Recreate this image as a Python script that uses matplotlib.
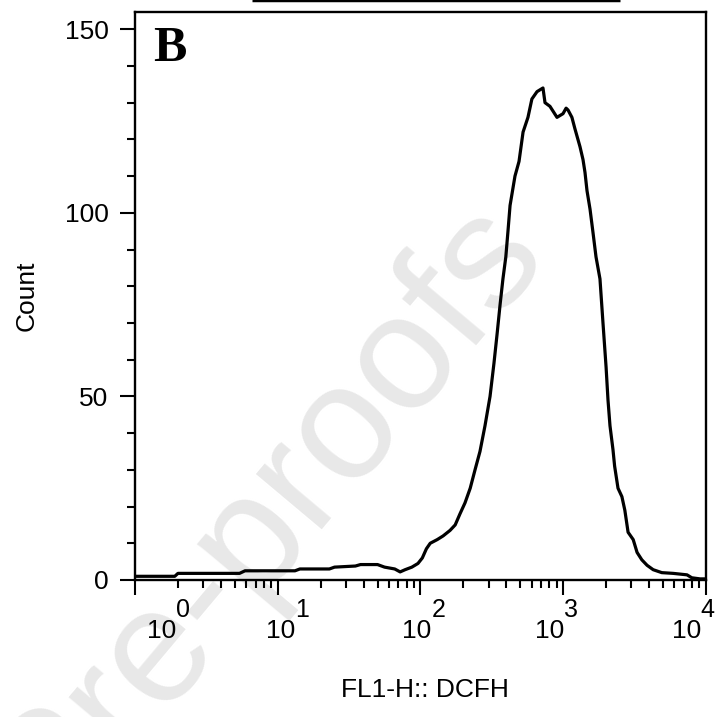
import matplotlib
matplotlib.use('Agg')
import matplotlib.pyplot as plt
from matplotlib.ticker import FixedLocator, LogLocator, NullFormatter
import numpy as np

plt.rcParams['font.family'] = ['Liberation Sans', 'DejaVu Sans']

# histogram: FL1-H channel value vs count
fl1 = [1.0, 1.9, 2.0, 5.4, 5.9, 13.2, 14.3, 23, 25, 35, 38, 50, 56, 66, 72, 78, 87,
       96, 103, 110, 117, 131, 144, 161, 175, 189, 205, 223, 241, 261, 283, 307,
       327, 344, 361, 378, 396, 410, 424, 459, 490, 523, 566, 603, 655, 687, 721,
       745, 807, 904, 996, 1047, 1080, 1150, 1205, 1310, 1375, 1420, 1467, 1540,
       1616, 1696, 1808, 1898, 1995, 2058, 2125, 2230, 2290, 2418, 2575, 2700,
       2845, 3090, 3290, 3550, 3865, 4265, 4900, 5890, 7360, 7950, 9080, 10000]
count = [1.0, 1.0, 1.8, 1.8, 2.5, 2.5, 3.0, 3.0, 3.5, 3.8, 4.2, 4.2, 3.5, 3.0, 2.2,
         2.8, 3.5, 4.5, 6, 8.5, 10, 11, 12, 13.5, 15, 18, 21, 25, 30, 35, 42, 50,
         59, 67, 75, 82, 88, 95, 102, 110, 114, 122, 126, 131, 133, 133.5, 134,
         130, 129, 126, 127, 128.5, 128, 126, 123, 118, 114.5, 111, 106, 101, 94.6,
         88, 82, 70, 58, 49, 42, 35.5, 31, 25, 22.7, 19, 13, 11, 7.5, 5.5, 4, 2.8,
         2, 1.8, 1.4, 0.6, 0.3, 0.3]

decades = [1, 10, 100, 1000, 10000]
exps = ['0', '1', '2', '3', '4']
label_at = [1.94, 13.2, 119, 1012, 9200]   # where "10" ends / exponent starts
y_major = [0, 50, 100, 150]
gate = [6.6, 2500]

fig = plt.figure(figsize=(7.28, 7.17), dpi=100)
ax = fig.add_axes([0.1854, 0.1911, 0.7844, 0.7922])
ax.set_facecolor('none')

# watermark, behind everything
fig.text(550/728, 1-258/717, 'Journal Pre-proofs', fontsize=118, color='#e8e8e8',
         rotation=50, rotation_mode='anchor', ha='right', va='baseline', zorder=-1)

ax.plot(fl1, count, color='black', lw=2.3, zorder=3)
ax.set_xscale('log')
ax.set_xlim(1, 10000)
ax.set_ylim(0, 154.7)

for s in ax.spines.values():
    s.set_linewidth(1.7)

ax.xaxis.set_major_locator(FixedLocator(decades))
ax.xaxis.set_minor_locator(LogLocator(base=10, subs=np.arange(2, 10)))
ax.xaxis.set_major_formatter(NullFormatter())
ax.xaxis.set_minor_formatter(NullFormatter())
ax.set_yticks(y_major)
ax.set_yticks(np.arange(0, 151, 10), minor=True)
ax.tick_params(axis='both', which='major', length=11, width=1.5, direction='out')
ax.tick_params(axis='both', which='minor', length=5.5, width=1.5, direction='out')
ax.tick_params(axis='y', which='major', labelsize=19, pad=8)

# decade labels, FlowJo style
tr = ax.get_xaxis_transform()
for xp, e in zip(label_at, exps):
    ax.text(xp, -0.102, '10', transform=tr, ha='right', va='baseline', fontsize=19)
    ax.text(xp, -0.065, e, transform=tr, ha='left', va='baseline', fontsize=18)

# gate bar at the top
ax.plot(gate, [157.9, 157.9], color='black', lw=2.5, clip_on=False,
        solid_capstyle='butt')

fig.text(425/728, 1-690/717, 'FL1-H:: DCFH', fontsize=19, ha='center', va='center')
fig.text(27/728, 1-296/717, 'Count', fontsize=19, rotation=90, ha='center', va='center')
ax.text(153/728, 1-61/717, 'B', transform=fig.transFigure, fontsize=36,
        fontweight='bold', family='Liberation Serif', ha='left', va='baseline')

fig.savefig('out.png', dpi=100)
